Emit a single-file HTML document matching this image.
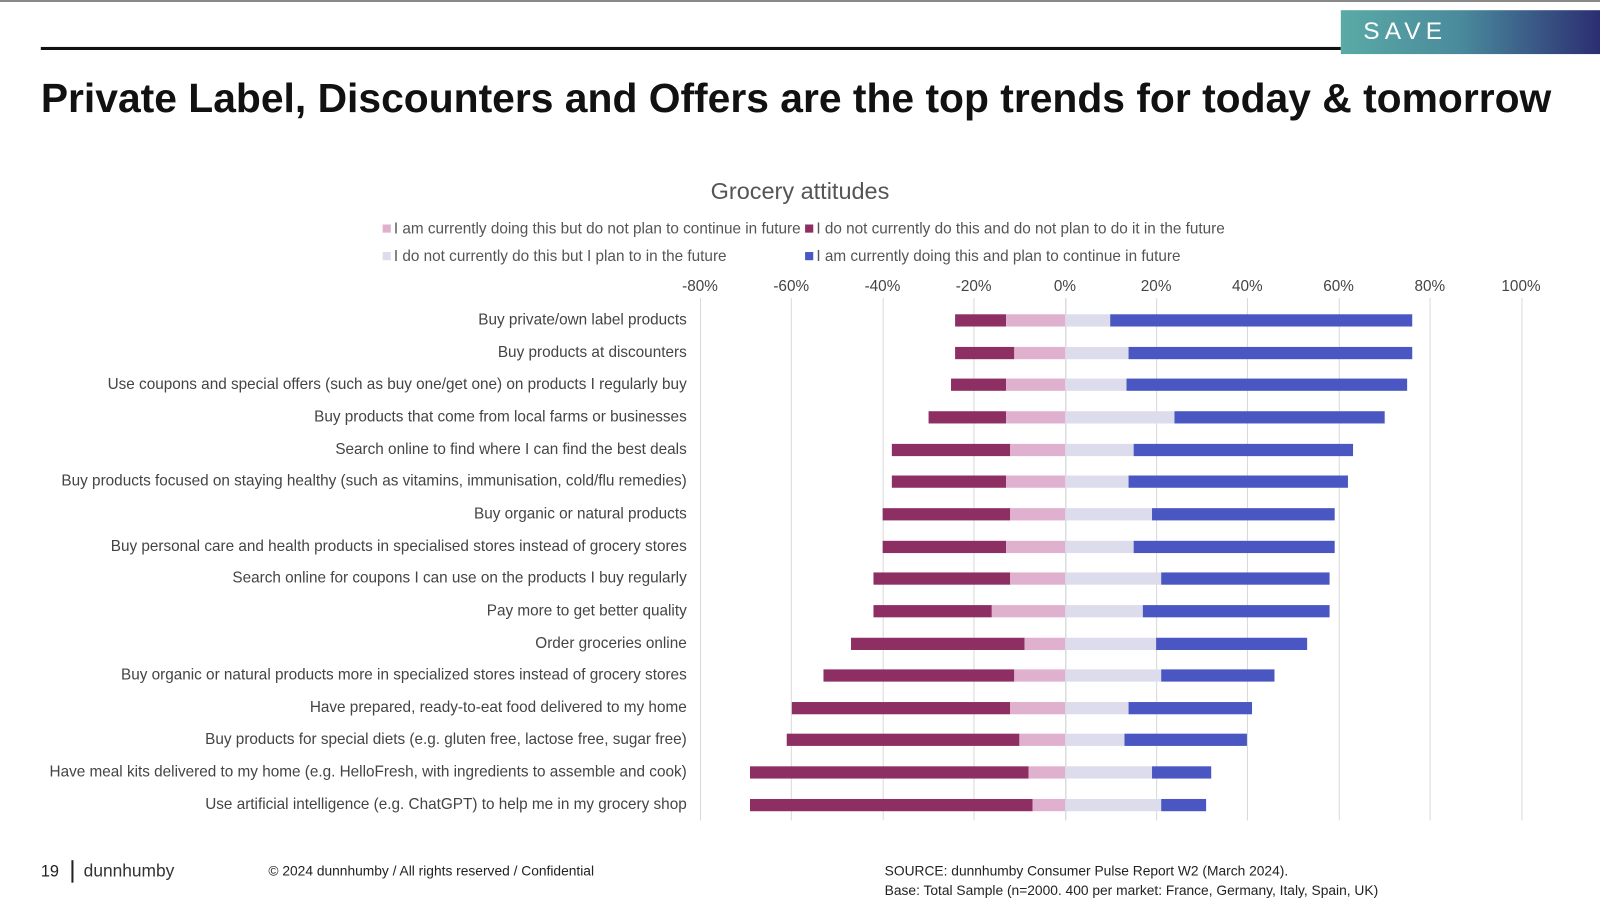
<!DOCTYPE html>
<html><head><meta charset="utf-8"><style>
body{margin:0;width:1600px;height:900px;background:#fff;position:relative;overflow:hidden;font-family:"Liberation Sans",sans-serif;}
#w{position:absolute;left:0;top:0;width:1568px;height:882px;transform:scale(1.0204);transform-origin:0 0;}
.a{position:absolute;}
.lbl{position:absolute;right:895px;font-size:15px;color:#444;white-space:nowrap;line-height:16px;}
.tk{position:absolute;top:272px;font-size:15px;color:#444;width:60px;text-align:center;}
.g{position:absolute;top:292px;width:1px;height:512px;background:#d9d9d9;}
.b{position:absolute;height:12px;}
.lg{position:absolute;font-size:15px;color:#555;white-space:nowrap;}
.sq{display:inline-block;width:8px;height:8px;margin-right:3px;vertical-align:1px;}
</style></head><body>
<div class="a" style="left:0;top:0;width:1600px;height:2px;background:#888"></div>
<div id="w">
<div class="a" style="left:40px;top:46px;width:1274px;height:3px;background:#111"></div>
<div class="a" style="left:1314px;top:10px;width:260px;height:43px;background:linear-gradient(90deg,#5aaaa6,#4a8a9c 45%,#2a2a70)"></div>
<div class="a" style="left:1336px;top:17px;font-size:24px;letter-spacing:5px;color:#fff">SAVE</div>
<div class="a" style="left:40px;top:75px;font-size:40px;font-weight:bold;color:#111;white-space:nowrap">Private Label, Discounters and Offers are the top trends for today &amp; tomorrow</div>
<div class="a" style="left:584px;top:174px;width:400px;text-align:center;font-size:23px;color:#555">Grocery attitudes</div>
<div class="lg" style="left:375px;top:216px"><span class="sq" style="background:#e0b0cf"></span>I am currently doing this but do not plan to continue in future</div>
<div class="lg" style="left:789px;top:216px"><span class="sq" style="background:#8e2f64"></span>I do not currently do this and do not plan to do it in the future</div>
<div class="lg" style="left:375px;top:243px"><span class="sq" style="background:#dcdcec"></span>I do not currently do this but I plan to in the future</div>
<div class="lg" style="left:789px;top:243px"><span class="sq" style="background:#4a56c2"></span>I am currently doing this and plan to continue in future</div>
<div id="c"></div>
<div class="a" style="left:40px;top:846px;font-size:16px;color:#222">19</div>
<div class="a" style="left:70px;top:843px;width:2px;height:22px;background:#222"></div>
<div class="a" style="left:82px;top:844px;font-size:17px;color:#333">dunnhumby</div>
<div class="a" style="left:263px;top:846px;font-size:13.5px;color:#222">© 2024 dunnhumby / All rights reserved / Confidential</div>
<div class="a" style="left:867px;top:846px;font-size:13.5px;color:#222">SOURCE: dunnhumby Consumer Pulse Report W2 (March 2024).</div>
<div class="a" style="left:867px;top:865px;font-size:13.5px;color:#222">Base: Total Sample (n=2000. 400 per market: France, Germany, Italy, Spain, UK)</div>
</div>
<script>
var c=document.getElementById('c'),h='';
var ticks=['-80%','-60%','-40%','-20%','0%','20%','40%','60%','80%','100%'];
for(var i=0;i<10;i++){var x=686+i*89.4;h+='<div class="tk" style="left:'+(x-30)+'px">'+ticks[i]+'</div>';if(i!=4)h+='<div class="g" style="left:'+x+'px"></div>';}
h+='<div class="g" style="left:1044px;background:#ccc"></div>';
var L=["Buy private/own label products","Buy products at discounters","Use coupons and special offers (such as buy one/get one) on products I regularly buy","Buy products that come from local farms or businesses","Search online to find where I can find the best deals","Buy products focused on staying healthy (such as vitamins, immunisation, cold/flu remedies)","Buy organic or natural products","Buy personal care and health products in specialised stores instead of grocery stores","Search online for coupons I can use on the products I buy regularly","Pay more to get better quality","Order groceries online","Buy organic or natural products more in specialized stores instead of grocery stores","Have prepared, ready-to-eat food delivered to my home","Buy products for special diets (e.g. gluten free, lactose free, sugar free)","Have meal kits delivered to my home (e.g. HelloFresh, with ingredients to assemble and cook)","Use artificial intelligence (e.g. ChatGPT) to help me in my grocery shop"];
var D=[[936,986,1088,1384],[936,994,1106,1384],[932,986,1104,1379],[910,986,1151,1357],[874,990,1111,1326],[874,986,1106,1321],[865,990,1129,1308],[865,986,1111,1308],[856,990,1138,1303],[856,972,1120,1303],[834,1004,1133,1281],[807,994,1138,1249],[776,990,1106,1227],[771,999,1102,1222],[735,1008,1129,1187],[735,1012,1138,1182]];
for(var r=0;r<16;r++){var y=314+r*31.65,d=D[r];
h+='<div class="lbl" style="top:'+(y-8)+'px">'+L[r]+'</div>';
h+='<div class="b" style="top:'+(y-6)+'px;left:'+d[0]+'px;width:'+(d[1]-d[0])+'px;background:#8e2f64"></div>';
h+='<div class="b" style="top:'+(y-6)+'px;left:'+d[1]+'px;width:'+(1044-d[1])+'px;background:#e0b0cf"></div>';
h+='<div class="b" style="top:'+(y-6)+'px;left:1044px;width:'+(d[2]-1044)+'px;background:#dcdcec"></div>';
h+='<div class="b" style="top:'+(y-6)+'px;left:'+d[2]+'px;width:'+(d[3]-d[2])+'px;background:#4a56c2"></div>';}
c.innerHTML=h;
</script>
</body></html>
